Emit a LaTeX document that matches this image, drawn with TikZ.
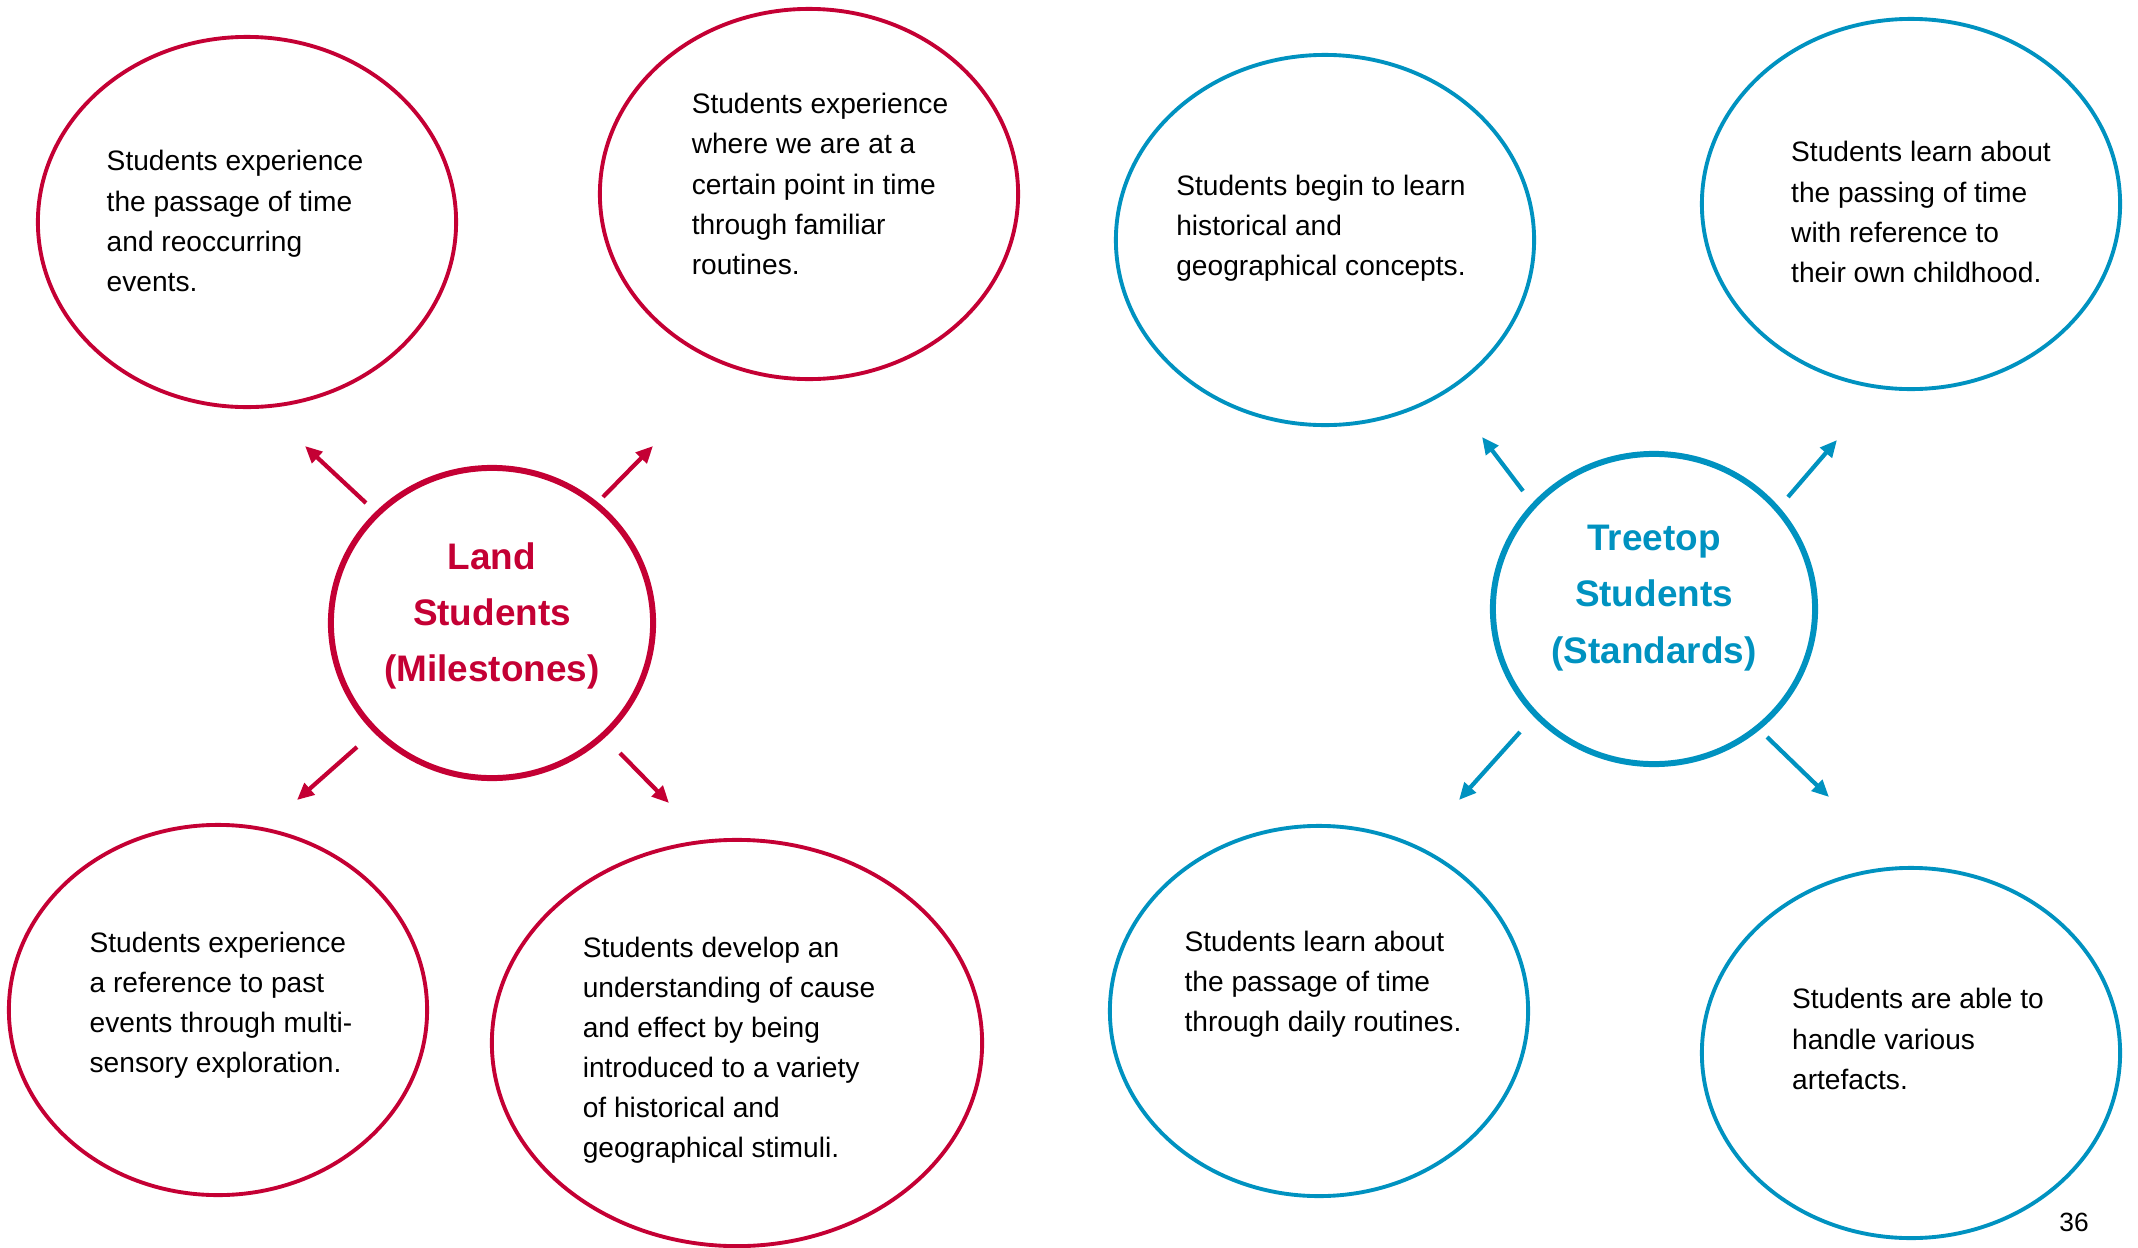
\documentclass[tikz,border=0pt]{standalone}
\usepackage{fontspec}
\setmainfont{Liberation Sans}
\usetikzlibrary{arrows.meta,shapes.geometric}
\definecolor{landred}{RGB}{196,0,52}
\definecolor{treeblue}{RGB}{0,146,192}

\begin{document}
\begin{tikzpicture}[x=0.01cm,y=-0.01cm,
  bubble/.style={draw=#1, line width=1.1pt, ellipse, minimum width=4.18cm, minimum height=3.7cm, inner sep=0pt},
  note/.style={align=left, inner sep=0pt, font=\fontsize{8}{11.4}\selectfont},
  hub/.style={draw=#1, line width=1.7pt, ellipse, minimum width=3.22cm, minimum height=3.1cm, inner sep=0pt},
  hubtext/.style={align=center, inner sep=0pt, text=#1, font=\bfseries\fontsize{10.5}{16}\selectfont},
  spoke/.style={draw=#1, line width=1.2pt, -{Triangle[length=0.17cm,width=0.15cm]}}]
  \useasboundingbox (0,0) rectangle (2138,1248);

  % Land students (milestones)
  \node[hub=landred] (land) at (492,623) {};
  \node[hubtext=landred] (landt) at ([yshift=0.07cm]land.center) {Land\\Students\\(Milestones)};
  \node[bubble=landred] (land1) at (247,222) {};
  \node[bubble=landred] (land2) at (809,194) {};
  \node[bubble=landred] (land3) at (218,1010) {};
  \node[bubble=landred, minimum width=4.9cm, minimum height=4.06cm] (land4) at (737,1043) {};
  \node[note] (land1t) at ([shift={(-0.12cm,0.01cm)}]land1.center) {Students experience\\the passage of time\\and reoccurring\\events.};
  \node[note] (land2t) at ([shift={(0.11cm,0.10cm)}]land2.center) {Students experience\\where we are at a\\certain point in time\\through familiar\\routines.};
  \node[note] (land3t) at ([shift={(0.03cm,0.05cm)}]land3.center) {Students experience\\a reference to past\\events through multi-\\sensory exploration.};
  \node[note] (land4t) at ([shift={(-0.08cm,-0.07cm)}]land4.center) {Students develop an\\understanding of cause\\and effect by being\\introduced to a variety\\of historical and\\geographical stimuli.};

  % Treetop students (standards)
  \node[hub=treeblue] (tree) at (1654,609) {};
  \node[hubtext=treeblue] (treet) at ([yshift=0.11cm]tree.center) {Treetop\\Students\\(Standards)};
  \node[bubble=treeblue] (tree1) at (1325,240) {};
  \node[bubble=treeblue] (tree2) at (1911,204) {};
  \node[bubble=treeblue] (tree3) at (1319,1011) {};
  \node[bubble=treeblue] (tree4) at (1911,1053) {};
  \node[note] (tree1t) at ([shift={(-0.04cm,0.12cm)}]tree1.center) {Students begin to learn\\historical and\\geographical concepts.};
  \node[note] (tree2t) at ([shift={(0.10cm,-0.08cm)}]tree2.center) {Students learn about\\the passing of time\\with reference to\\their own childhood.};
  \node[note] (tree3t) at ([shift={(0.04cm,0.27cm)}]tree3.center) {Students learn about\\the passage of time\\through daily routines.};
  \node[note] (tree4t) at ([shift={(0.07cm,0.14cm)}]tree4.center) {Students are able to\\handle various\\artefacts.};

  % Arrows out of the hubs
  \foreach \name/\fx/\fy/\tx/\ty in {lnw/366/503/305/446, lne/603/497/653/446,
      lsw/357/747/297/800, lse/620/753/669/803} {
    \coordinate (\name a) at (\fx,\fy);
    \coordinate (\name b) at (\tx,\ty);
    \draw[spoke=landred] (\name a) -- (\name b);
  }
  \foreach \name/\fx/\fy/\tx/\ty in {tnw/1523/491/1482/437, tne/1788/497/1837/440,
      tsw/1520/732/1459/800, tse/1767/737/1829/797} {
    \coordinate (\name a) at (\fx,\fy);
    \coordinate (\name b) at (\tx,\ty);
    \draw[spoke=treeblue] (\name a) -- (\name b);
  }

  % Page number
  \node[font=\fontsize{7.5}{9}\selectfont] (pg) at (2074,1222) {36};
\end{tikzpicture}
\end{document}
